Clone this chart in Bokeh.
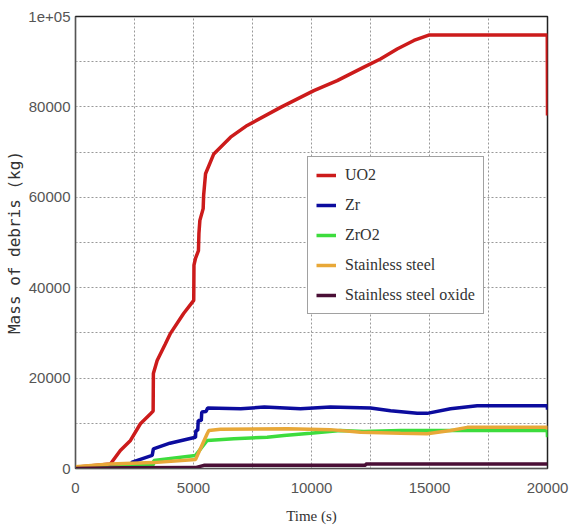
from bokeh.plotting import figure
from bokeh.models import Range1d, FixedTicker, Legend, LegendItem, CustomJSTickFormatter
from bokeh.embed import file_html
from bokeh.resources import INLINE

# ---- data ----
t_uo2 = [0, 1480, 1900, 2330, 2750, 3180, 3290, 3300, 3460, 3800, 4025, 4580, 5010, 5020, 5085,
         5210, 5230, 5270, 5410, 5430, 5510, 5860, 6570, 7275, 8690, 10100, 11090, 12220, 12920,
         13630, 14340, 14970, 19990, 20000]
y_uo2 = [300, 1000, 4000, 6200, 9900, 12100, 12700, 21000, 23900, 27500, 29900, 34300, 37200, 45000, 46500,
         48200, 52000, 54900, 57500, 60500, 65200, 69600, 73300, 75900, 79900, 83600, 85800, 88800, 90600,
         92800, 94700, 95900, 95900, 78100]

t_zr = [0, 2300, 2400, 3250, 3300, 4000, 5085, 5100, 5180, 5200, 5330, 5350, 5530, 5600, 7000, 8000,
        9530, 10800, 12500, 13350, 14480, 14900, 15890, 17020, 19990, 20000]
y_zr = [200, 500, 1400, 2900, 4350, 5600, 6900, 8400, 8400, 10600, 10600, 12500, 12600, 13400, 13200, 13600,
        13200, 13600, 13400, 12800, 12200, 12200, 13200, 13900, 13900, 13000]

t_zro2 = [0, 1500, 2500, 3300, 3320, 5085, 5580, 6710, 8120, 8830, 9960, 11230, 12220, 13770, 15890, 19990, 20000]
y_zro2 = [0, 300, 600, 800, 1800, 2900, 6200, 6600, 6900, 7300, 7800, 8400, 8200, 8400, 8400, 8400, 6900]

t_ss = [0, 1480, 3300, 5085, 5580, 5650, 6140, 9000, 10800, 12080, 13770, 14900, 15890, 16600, 19990, 20000]
y_ss = [400, 1000, 1300, 2000, 7700, 8400, 8700, 8800, 8600, 8000, 7800, 7700, 8400, 9100, 9100, 8600]

t_sso = [0, 2000, 5085, 5440, 12290, 12300, 20000]
y_sso = [0, 150, 200, 700, 700, 1000, 1000]

labels = ["UO2", "Zr", "ZrO2", "Stainless steel", "Stainless steel oxide"]
colors = ["#cc1b1b", "#0c0c9e", "#3ddc3d", "#e8a838", "#4a0f36"]

x_ticks = [0, 5000, 10000, 15000, 20000]
y_ticks = [0, 20000, 40000, 60000, 80000, 100000]
x_grid = [0, 2500, 5000, 7500, 10000, 12500, 15000, 17500, 20000]
y_grid = [0, 10000, 20000, 30000, 40000, 50000, 60000, 70000, 80000, 90000, 100000]

p = figure(width=569, height=528, output_backend="svg", toolbar_location=None,
           x_range=Range1d(0, 20000), y_range=Range1d(0, 100000),
           min_border_left=75, min_border_right=22, min_border_top=16, min_border_bottom=60)
p.background_fill_color = "white"
p.border_fill_color = "white"
p.outline_line_color = "#222222"
p.outline_line_width = 1.5

series = [(t_uo2, y_uo2), (t_zr, y_zr), (t_zro2, y_zro2), (t_ss, y_ss), (t_sso, y_sso)]
items = []
for (tx, ty), lab, col in zip(series, labels, colors):
    r = p.line(tx, ty, line_color=col, line_width=3.5)
    items.append(LegendItem(label=lab, renderers=[r]))

# axes
p.xaxis.ticker = FixedTicker(ticks=x_ticks)
p.yaxis.ticker = FixedTicker(ticks=y_ticks)
p.yaxis.formatter = CustomJSTickFormatter(code="return tick >= 100000 ? '1e+05' : tick.toFixed(0);")
for ax in (p.xaxis[0], p.yaxis[0]):
    ax.major_tick_line_color = None
    ax.minor_tick_line_color = None
    ax.major_tick_out = 0
    ax.major_tick_in = 0
    ax.minor_tick_out = 0
    ax.minor_tick_in = 0
    ax.axis_line_color = "#555555"
    ax.major_label_text_font = "Liberation Sans"
    ax.major_label_text_font_size = "15px"
    ax.major_label_text_color = "#555555"
    ax.axis_label_text_font_style = "normal"
    ax.axis_label_text_color = "#333333"
p.xaxis.major_label_standoff = 14
p.yaxis.major_label_standoff = 5
p.xaxis.axis_label = "Time (s)"
p.xaxis.axis_label_text_font = "Liberation Serif"
p.xaxis.axis_label_text_font_size = "15px"
p.xaxis.axis_label_standoff = 12
p.yaxis.axis_label = "Mass of debris (kg)"
p.yaxis.axis_label_text_font = "DejaVu Sans Mono"
p.yaxis.axis_label_text_font_size = "16px"
p.yaxis.axis_label_standoff = 1

p.xgrid.ticker = FixedTicker(ticks=x_grid)
p.ygrid.ticker = FixedTicker(ticks=y_grid)
for g in (p.xgrid[0], p.ygrid[0]):
    g.grid_line_color = "#999999"
    g.grid_line_dash = "2 2"
    g.grid_line_width = 1

legend = Legend(items=items, location=(232, 154))
legend.label_text_font = "Liberation Serif"
legend.label_text_font_size = "16px"
legend.label_text_color = "#333333"
legend.glyph_width = 20
legend.glyph_height = 20
legend.label_height = 20
legend.label_standoff = 9
legend.spacing = 10
legend.padding = 8
legend.margin = 0
legend.border_line_color = "#444444"
legend.border_line_width = 1.5
legend.background_fill_alpha = 1.0
p.add_layout(legend)

open("out.html", "w").write(file_html(p, INLINE))
